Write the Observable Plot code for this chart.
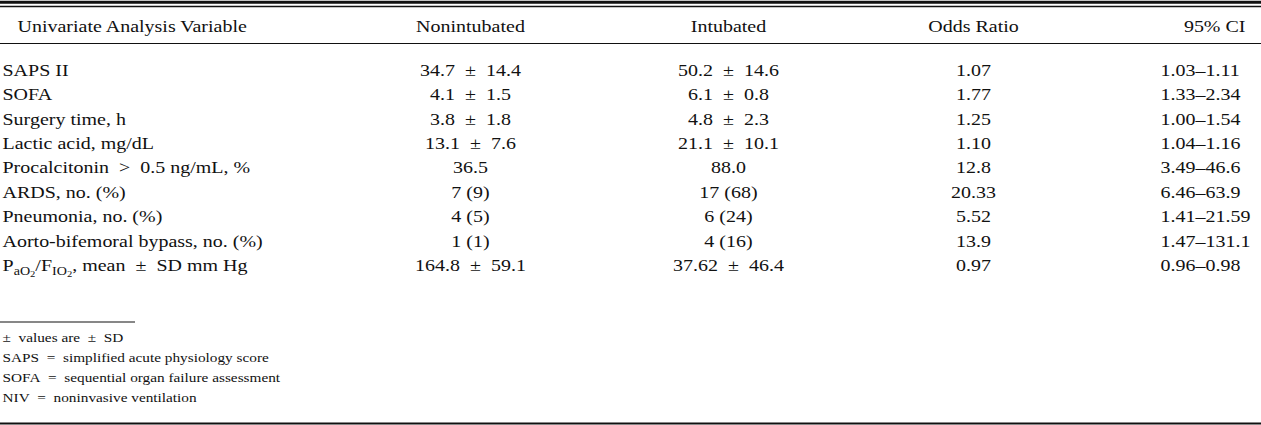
<!DOCTYPE html>
<html><head><meta charset="utf-8">
<script src="https://cdn.jsdelivr.net/npm/d3@7"></script>
<script src="https://cdn.jsdelivr.net/npm/@observablehq/plot@0.6"></script>
<style>html,body{margin:0;padding:0;background:#fff;overflow:hidden}</style>
</head><body><div id="chart"></div>
<script>
// ---- data ----
const columns = ["Univariate Analysis Variable", "Nonintubated", "Intubated", "Odds Ratio", "95% CI"];
const variables = ["SAPS II", "SOFA", "Surgery time, h", "Lactic acid, mg/dL", "Procalcitonin > 0.5 ng/mL, %",
  "ARDS, no. (%)", "Pneumonia, no. (%)", "Aorto-bifemoral bypass, no. (%)", "PaO2/FIO2, mean ± SD mm Hg"];
const nonintubated = ["34.7 ± 14.4", "4.1 ± 1.5", "3.8 ± 1.8", "13.1 ± 7.6", "36.5", "7 (9)", "4 (5)", "1 (1)", "164.8 ± 59.1"];
const intubated = ["50.2 ± 14.6", "6.1 ± 0.8", "4.8 ± 2.3", "21.1 ± 10.1", "88.0", "17 (68)", "6 (24)", "4 (16)", "37.62 ± 46.4"];
const oddsRatio = ["1.07", "1.77", "1.25", "1.10", "12.8", "20.33", "5.52", "13.9", "0.97"];
const ci95 = ["1.03–1.11", "1.33–2.34", "1.00–1.54", "1.04–1.16", "3.49–46.6", "6.46–63.9", "1.41–21.59", "1.47–131.1", "0.96–0.98"];
const footnotes = ["± values are ± SD", "SAPS = simplified acute physiology score",
  "SOFA = sequential organ failure assessment", "NIV = noninvasive ventilation"];

// ---- table built from the arrays ----
const cols = [variables, nonintubated, intubated, oddsRatio, ci95];
const cells = cols.flatMap((arr, c) => arr.map((t, r) => ({col: c, row: r, text: t})));
const header = columns.map((t, c) => ({col: c, row: -1, text: t}));
const notes = footnotes.map((t, i) => ({col: 0, row: 9 + i, text: t}));

// ---- layout (column anchors / row lines of the table grid) ----
const colPos = d3.scaleLinear([0, 1, 2, 3, 4], [2, 470, 728, 973, 1160]);
const rowPos = d3.scaleLinear([-1, 0, 8, 9, 12], [26, 70, 265, 337, 397]);

const FONT = "Liberation Serif, Times New Roman, serif";
const BODY = 17, NOTE = 13, SX = 1.176;
const ink = "#111";
// math-style spacing around operators (typeset look)
const typeset = d => d.text.replace(/ ([±=>]) /g, "\u2002$1\u2002").replace(/^± /, "±\u2002");

const txt = (data, anchor, extra = {}) => Plot.text(data, {
  x: d => colPos(d.col), y: d => rowPos(d.row), text: typeset, textAnchor: anchor, lineAnchor: "middle",
  fontFamily: FONT, fontSize: BODY, fill: ink, ...extra
});

const plot = Plot.plot({
  width: 1261, height: 425,
  marginTop: 0, marginBottom: 0, marginLeft: 0, marginRight: 0,
  style: {background: "#fff", fontFamily: FONT},
  x: {domain: [0, 1261], range: [0, 1261], axis: null},
  y: {domain: [0, 425], range: [0, 425], axis: null},
  marks: [
    // rules
    Plot.ruleY([1.7], {stroke: ink, strokeWidth: 3}),
    Plot.ruleY([6], {stroke: ink, strokeWidth: 1.3}),
    Plot.ruleY([43], {stroke: ink, strokeWidth: 1}),
    Plot.ruleY([321.5], {x1: 0, x2: 135, stroke: ink, strokeWidth: 1.2}),
    Plot.ruleY([423], {stroke: ink, strokeWidth: 2}),
    // header
    txt(header.filter(d => d.col === 0), "start", {dx: 15}),
    txt(header.filter(d => d.col > 0 && d.col < 4), "middle"),
    txt(header.filter(d => d.col === 4), "end", {dx: 85}),
    // body
    txt(cells.filter(d => d.col === 0), "start"),
    txt(cells.filter(d => d.col > 0 && d.col < 4), "middle"),
    txt(cells.filter(d => d.col === 4), "start"),
    // footnotes
    txt(notes, "start", {fontSize: NOTE})
  ]
});

// horizontal glyph scaling to match the reference typesetting
plot.querySelectorAll("text").forEach(t => {
  const tr = t.getAttribute("transform") || "";
  t.setAttribute("transform", tr + ` scale(${SX},1)`);
});

// subscripts for PaO2/FIO2
const NS = "http://www.w3.org/2000/svg";
plot.querySelectorAll("text").forEach(t => {
  if (t.textContent.startsWith("PaO2/FIO2")) {
    const rest = t.textContent.slice("PaO2/FIO2".length);
    while (t.firstChild) t.removeChild(t.firstChild);
    const parts = [
      ["P", 0, null], ["aO", 4, 12], ["2", 2.5, 9],
      ["/F", -6.5, null], ["IO", 4, 12], ["2", 2.5, 9], [rest, -6.5, null]
    ];
    for (const [s, dy, fs] of parts) {
      const sp = document.createElementNS(NS, "tspan");
      sp.textContent = s;
      if (dy) sp.setAttribute("dy", dy);
      if (fs) sp.setAttribute("font-size", fs);
      t.appendChild(sp);
    }
  }
});

document.getElementById("chart").appendChild(plot);
</script>
</body></html>
